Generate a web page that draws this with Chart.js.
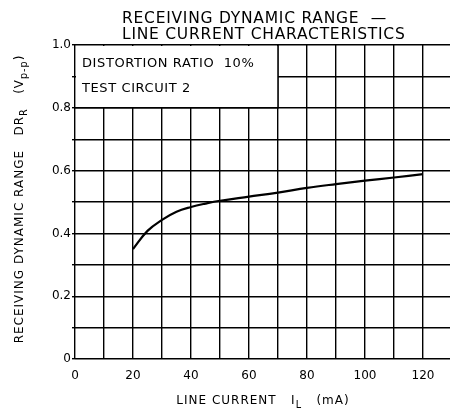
<!DOCTYPE html>
<html>
<head>
<meta charset="utf-8">
<script src="https://cdn.jsdelivr.net/npm/chart.js@4/dist/chart.umd.min.js"></script>
<style>
  html, body { margin: 0; padding: 0; background: #fff; overflow: hidden; }
  #wrap { width: 450px; height: 413px; overflow: hidden; }
</style>
</head>
<body>
<div id="wrap"><canvas id="chart" width="456" height="413"></canvas></div>
<script>
// curve (mA -> Vp-p)
const currents = [20, 25, 30, 35, 40, 45, 50, 60, 70, 80, 90, 100, 110, 120];
const ranges = [0.35, 0.408, 0.443, 0.469, 0.484, 0.495, 0.504, 0.517, 0.530, 0.545, 0.557, 0.568, 0.578, 0.589];
const xTicks = [0, 20, 40, 60, 80, 100, 120];
const yTicks = [0, 0.2, 0.4, 0.6, 0.8, 1.0];
const titleLines = ['RECEIVING DYNAMIC RANGE  —', 'LINE CURRENT CHARACTERISTICS'];
const noteLines = ['DISTORTION RATIO  10%', 'TEST CIRCUIT 2'];

const FONT = '"DejaVu Sans", sans-serif';

// draws text where some pieces are subscripts
function drawParts(ctx, parts, x, y, size) {
    let total = 0;
    parts.forEach(p => {
        ctx.font = (p.sub ? size * 0.8 : size) + 'px ' + FONT;
        total += ctx.measureText(p.t).width;
    });
    let cx = x - total / 2;
    ctx.textAlign = 'left';
    parts.forEach(p => {
        ctx.font = (p.sub ? size * 0.8 : size) + 'px ' + FONT;
        ctx.fillText(p.t, cx, p.sub ? y + size * 0.35 : y);
        cx += ctx.measureText(p.t).width;
    });
}

const textPlugin = {
    id: 'texts',
    beforeDatasetsDraw(chart) {
        const { ctx, scales: { x, y } } = chart;
        // note box covers the grid in the upper left corner
        const l = x.getPixelForValue(0), r = x.getPixelForValue(70);
        const t = y.getPixelForValue(1.0), b = y.getPixelForValue(0.8);
        ctx.save();
        ctx.fillStyle = '#fff';
        ctx.fillRect(l + 1, t + 1, r - l - 1, b - t - 1);
        ctx.strokeStyle = '#000';
        ctx.lineWidth = 1.5;
        ctx.beginPath();
        ctx.moveTo(r, t); ctx.lineTo(r, b); ctx.lineTo(l, b);
        ctx.stroke();
        ctx.fillStyle = '#000';
        ctx.font = '13px ' + FONT;
        ctx.letterSpacing = '0.6px';
        ctx.textAlign = 'left';
        ctx.textBaseline = 'alphabetic';
        ctx.fillText(noteLines[0], l + 7, t + 22);
        ctx.fillText(noteLines[1], l + 7, t + 47);
        ctx.restore();
    },
    afterDraw(chart) {
        const { ctx } = chart;
        ctx.save();
        ctx.fillStyle = '#000';
        ctx.textBaseline = 'alphabetic';
        ctx.textAlign = 'left';
        ctx.font = '15.5px ' + FONT;
        ctx.letterSpacing = '0.75px';
        ctx.fillText(titleLines[0], 122, 23);
        ctx.fillText(titleLines[1], 122, 39);

        ctx.letterSpacing = '1px';
        drawParts(ctx, [{ t: 'LINE CURRENT   I' }, { t: 'L', sub: true }, { t: '   (mA)' }], 263, 404, 12);

        ctx.translate(23, 199);
        ctx.rotate(-Math.PI / 2);
        drawParts(ctx, [
            { t: 'RECEIVING DYNAMIC RANGE   DR' }, { t: 'R', sub: true },
            { t: '   (V' }, { t: 'p-p', sub: true }, { t: ')' }
        ], 0, 0, 12);
        ctx.restore();
    }
};

new Chart(document.getElementById('chart'), {
    type: 'line',
    data: {
        datasets: [{
            data: currents.map((c, i) => ({ x: c, y: ranges[i] })),
            borderColor: '#000',
            borderWidth: 2.2,
            pointRadius: 0,
            tension: 0.4,
            fill: false
        }]
    },
    options: {
        responsive: false,
        animation: false,
        layout: { padding: { top: 45, right: 4, left: 0, bottom: 0 } },
        plugins: { legend: { display: false }, tooltip: { enabled: false } },
        scales: {
            x: {
                type: 'linear',
                min: 0,
                max: 130,
                border: { display: false },
                grid: { color: '#000', lineWidth: 1.4, tickLength: 0 },
                ticks: {
                    stepSize: 10,
                    autoSkip: false,
                    maxRotation: 0,
                    padding: 10,
                    color: '#000',
                    font: { family: FONT, size: 12 },
                    callback: v => xTicks.includes(v) ? String(v) : ''
                },
                afterFit: s => { s.height = 54; s.paddingLeft = 0; s.paddingRight = 0; }
            },
            y: {
                min: 0,
                max: 1.0,
                border: { display: false },
                grid: { color: '#000', lineWidth: 1.4, tickLength: 3 },
                ticks: {
                    stepSize: 0.1,
                    autoSkip: false,
                    padding: 1,
                    color: '#000',
                    font: { family: FONT, size: 12 },
                    callback: v => {
                        const r = Math.round(v * 10) / 10;
                        if (!yTicks.some(t => Math.abs(t - r) < 1e-6)) return '';
                        return r === 0 ? '0' : r.toFixed(1);
                    }
                },
                afterFit: s => { s.width = 75; s.paddingTop = 0; s.paddingBottom = 0; }
            }
        }
    },
    plugins: [textPlugin]
});
</script>
</body>
</html>
